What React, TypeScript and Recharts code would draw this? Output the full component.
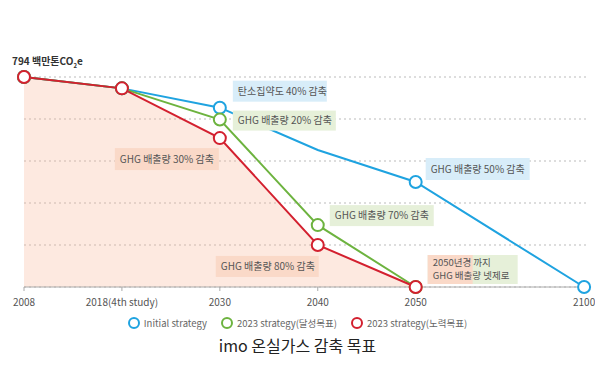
import { ComposedChart, Line, Area, XAxis, YAxis, CartesianGrid } from "recharts"

const years = ["2008", "2018(4th study)", "2030", "2040", "2050", "2100"]
// 2050 -> 2100 is drawn wider than the other steps
const xPos = [0, 1, 2, 3, 4, 5.72]
const initialStrategy = [794, 751, 678, 518, 397, 0]
const targetStrategy = [794, 751, 633, 234, 0, null]
const effortStrategy = [794, 751, 563, 159, 0, null]
const yTicks = [0, 158.8, 317.6, 476.4, 635.2, 794]

const BLUE = "#1fa3e0"
const GREEN = "#6db33f"
const RED = "#d3202f"
const FONT = "'Noto Sans CJK KR', 'Noto Sans', sans-serif"

const data = years.map((year, i) => ({
  year,
  pos: xPos[i],
  initial: initialStrategy[i],
  target: targetStrategy[i],
  effort: effortStrategy[i],
}))

type Callout = { index: number; lines: string[]; dx: number; dy: number; w: number; h: number; bg: string; bg2?: string; split?: number }

const blueCallouts: Callout[] = [
  { index: 2, lines: ["탄소집약도 40% 감축"], dx: 13, dy: -27, w: 94, h: 21, bg: "#d8edf9" },
  { index: 4, lines: ["GHG 배출량 50% 감축"], dx: 10, dy: -24, w: 104, h: 22, bg: "#d8edf9" },
]
const greenCallouts: Callout[] = [
  { index: 2, lines: ["GHG 배출량 20% 감축"], dx: 13, dy: -9, w: 103, h: 20, bg: "#e6f0d9" },
  { index: 3, lines: ["GHG 배출량 70% 감축"], dx: 12, dy: -20, w: 104, h: 21, bg: "#e6f0d9" },
]
const redCallouts: Callout[] = [
  { index: 2, lines: ["GHG 배출량 30% 감축"], dx: -105, dy: 10, w: 104, h: 22, bg: "#fad9c8" },
  { index: 3, lines: ["GHG 배출량 80% 감축"], dx: -102, dy: 11, w: 103, h: 21, bg: "#fad9c8" },
  { index: 4, lines: ["2050년경 까지", "GHG 배출량 넷제로"], dx: 12, dy: -32, w: 90, h: 29, bg: "#fad9c8", bg2: "#e6f0d9", split: 45 },
]

function makeDot(color: string, callouts: Callout[], hidden: number[] = []) {
  return (props: any) => {
    const { cx, cy, index } = props
    if (cx == null || cy == null) return <g key={`d-${index}`} />
    const c = callouts.find((o) => o.index === index)
    return (
      <g key={`d-${index}`}>
        {!hidden.includes(index) && (
          <circle cx={cx} cy={cy} r={6} fill="#fff" stroke={color} strokeWidth={2} />
        )}
        {c && (
          <g>
            {c.bg2 ? (
              <>
                <rect x={cx + c.dx} y={cy + c.dy} width={c.w} height={c.h} fill={c.bg2} />
                <rect x={cx + c.dx} y={cy + c.dy} width={c.split} height={c.h} fill={c.bg} />
              </>
            ) : (
              <rect x={cx + c.dx} y={cy + c.dy} width={c.w} height={c.h} fill={c.bg} />
            )}
            {c.lines.map((t, j) => (
              <text
                key={j}
                x={cx + c.dx + 5}
                y={cy + c.dy + (c.lines.length === 1 ? c.h / 2 + 3.5 : 11 + j * 13)}
                fontSize={c.lines.length === 1 ? 10 : 9.5}
                fill="#555"
                fontFamily={FONT}
              >
                {t}
              </text>
            ))}
          </g>
        )}
      </g>
    )
  }
}

const legendItems = [
  { name: "Initial strategy", color: BLUE },
  { name: "2023 strategy(달성목표)", color: GREEN },
  { name: "2023 strategy(노력목표)", color: RED },
]

export default function App() {
  return (
    <div style={{ position: "absolute", left: 0, top: 0, width: 595, height: 369, background: "#fff", fontFamily: FONT }}>
      <div style={{ position: "absolute", left: 12, top: 53, fontSize: 10, fontWeight: 700, color: "#333", whiteSpace: "nowrap" }}>
        794 백만톤CO<sub style={{ fontSize: 6 }}>2</sub>e
      </div>
      <ComposedChart width={595} height={317} data={data} margin={{ top: 77, right: 6, left: 24, bottom: 0 }}>
        <CartesianGrid horizontal vertical={false} stroke="#bbb" strokeDasharray="2 3" />
        <XAxis
          type="number"
          dataKey="pos"
          domain={[0, 5.77]}
          ticks={xPos}
          tickFormatter={(v) => years[xPos.indexOf(v)] ?? ""}
          axisLine={{ stroke: "#aaa" }}
          tickLine={{ stroke: "#aaa" }}
          tickSize={4}
          tickMargin={8}
          height={30}
          interval={0}
          tick={{ fontSize: 10, fill: "#555", fontFamily: FONT }}
        />
        <YAxis hide domain={[0, 794]} ticks={yTicks} />
        <Area
          type="linear"
          dataKey="effort"
          stroke="none"
          fill="#f7b597"
          fillOpacity={0.3}
          legendType="none"
          isAnimationActive={false}
        />
        <Line
          type="linear"
          dataKey="initial"
          stroke={BLUE}
          strokeWidth={2}
          dot={makeDot(BLUE, blueCallouts, [3])}
          activeDot={false}
          isAnimationActive={false}
        />
        <Line
          type="linear"
          dataKey="target"
          stroke={GREEN}
          strokeWidth={2}
          dot={makeDot(GREEN, greenCallouts)}
          activeDot={false}
          isAnimationActive={false}
        />
        <Line
          type="linear"
          dataKey="effort"
          stroke={RED}
          strokeWidth={2}
          dot={makeDot(RED, redCallouts)}
          activeDot={false}
          isAnimationActive={false}
        />
      </ComposedChart>
      <div style={{ position: "absolute", left: 0, top: 316, width: 595, display: "flex", justifyContent: "center", gap: 14, fontSize: 9.5, color: "#666" }}>
        {legendItems.map((it) => (
          <div key={it.name} style={{ display: "flex", alignItems: "center", gap: 4 }}>
            <span style={{ width: 8, height: 8, borderRadius: "50%", border: `2px solid ${it.color}`, display: "inline-block" }} />
            <span>{it.name}</span>
          </div>
        ))}
      </div>
      <div style={{ position: "absolute", left: 0, top: 333, width: 595, textAlign: "center", fontSize: 16, color: "#222" }}>
        imo 온실가스 감축 목표
      </div>
    </div>
  )
}
